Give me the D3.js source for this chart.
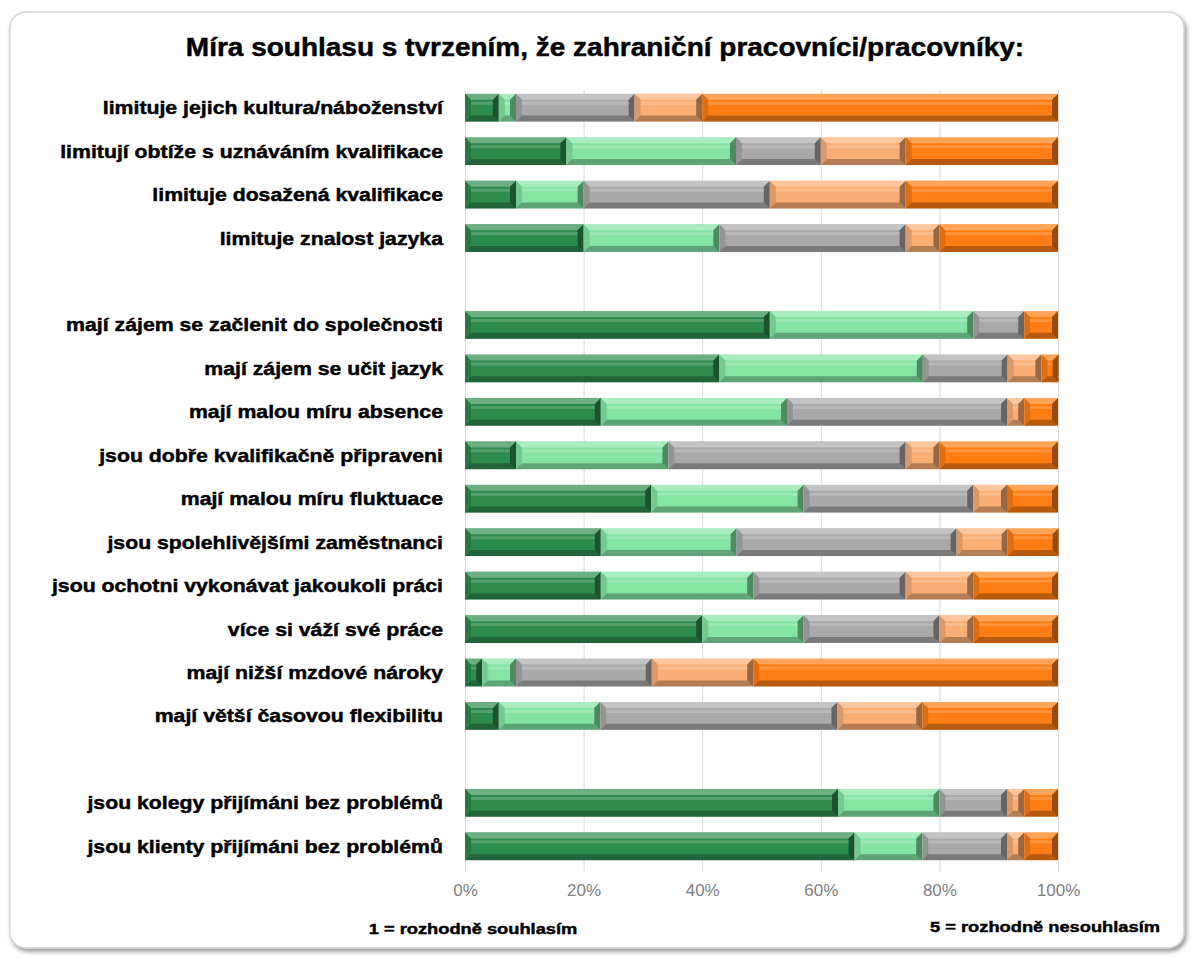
<!DOCTYPE html>
<html>
<head>
<meta charset="utf-8">
<script src="https://cdn.jsdelivr.net/npm/d3@7"></script>
<style>
  body { margin: 0; background: #fff; }
  svg text { font-family: "Liberation Sans", Arial, sans-serif; }
</style>
</head>
<body>
<div id="chart"></div>
<script>
// "" = empty spacer row
var categories = [
  "limituje jejich kultura/náboženství",
  "limitují obtíže s uznáváním kvalifikace",
  "limituje dosažená kvalifikace",
  "limituje znalost jazyka",
  "",
  "mají zájem se začlenit do společnosti",
  "mají zájem se učit jazyk",
  "mají malou míru absence",
  "jsou dobře kvalifikačně připraveni",
  "mají malou míru fluktuace",
  "jsou spolehlivějšími zaměstnanci",
  "jsou ochotni vykonávat jakoukoli práci",
  "více si váží své práce",
  "mají nižší mzdové nároky",
  "mají větší časovou flexibilitu",
  "",
  "jsou kolegy přijímáni bez problémů",
  "jsou klienty přijímáni bez problémů"
];

// percentages per answer level 1..5
var level1 = [5.7, 17.1, 8.6, 20.0, null, 51.4, 42.9, 22.9, 8.6, 31.4, 22.9, 22.9, 40.0, 2.9, 5.7, null, 62.9, 65.7];
var level2 = [2.9, 28.6, 11.4, 22.9, null, 34.3, 34.3, 31.4, 25.7, 25.7, 22.9, 25.7, 17.1, 5.7, 17.1, null, 17.1, 11.4];
var level3 = [20.0, 14.3, 31.4, 31.4, null, 8.6, 14.3, 37.1, 40.0, 28.6, 37.1, 25.7, 22.9, 22.9, 40.0, null, 11.4, 14.3];
var level4 = [11.4, 14.3, 22.9, 5.7, null, 0.0, 5.7, 2.9, 5.7, 5.7, 8.6, 11.4, 5.7, 17.1, 14.3, null, 2.9, 2.9];
var level5 = [60.0, 25.7, 25.7, 20.0, null, 5.7, 2.9, 5.7, 20.0, 8.6, 8.6, 14.3, 14.3, 51.4, 22.9, null, 5.7, 5.7];

var levels = [level1, level2, level3, level4, level5];
var colors = ["#2e8b4e", "#84e4a4", "#a9a9a9", "#fbae74", "#ff7d12"];
var xTicks = [0, 20, 40, 60, 80, 100];

var title = "Míra souhlasu s tvrzením, že zahraniční pracovníci/pracovníky:";
var noteLeft = "1 = rozhodně souhlasím";
var noteRight = "5 = rozhodně nesouhlasím";

const WIDTH = 1192;
const HEIGHT = 958;
const LEFT = 465;
const RIGHT = 1058;
const TOP = 86;
const BOTTOM = 868;

var svg = d3.select('#chart').append('svg')
  .attr('width', WIDTH)
  .attr('height', HEIGHT);

var defs = svg.append('defs');
var shadow = defs.append('filter').attr('id', 'shadow')
  .attr('x', '-5%').attr('y', '-5%').attr('width', '110%').attr('height', '110%');
shadow.append('feDropShadow')
  .attr('dx', 2).attr('dy', 3).attr('stdDeviation', 2)
  .attr('flood-color', '#555').attr('flood-opacity', 0.6);

// text stretched horizontally, anchored at x,y; thin stroke for a heavier look
var wideText = function(x, y, anchor, size, sx, str){
  return svg.append('text')
    .attr('transform', 'translate(' + x + ',' + y + ') scale(' + sx + ',1)')
    .attr('text-anchor', anchor)
    .attr('stroke', '#000')
    .attr('stroke-width', 0.45)
    .style('font-size', size + 'px')
    .style('font-weight', 'bold')
    .text(str);
};

// frame
svg.append('rect')
  .attr('x', 10).attr('y', 12)
  .attr('width', 1174).attr('height', 936)
  .attr('rx', 16).attr('ry', 16)
  .attr('fill', '#fff')
  .attr('stroke', '#d4d4d4')
  .attr('stroke-width', 1.5)
  .attr('filter', 'url(#shadow)');

wideText(605, 56, 'middle', 25, 1.12, title);

var xScale = d3.scaleLinear()
  .domain([0, 100])
  .range([LEFT, RIGHT]);

var yScale = d3.scaleBand()
  .domain(d3.range(categories.length))
  .range([TOP, BOTTOM])
  .paddingInner(0.36)
  .paddingOuter(0.18);

// gridlines + tick labels
var xAxis = d3.axisBottom(xScale)
  .tickValues(xTicks)
  .tickSize(-(BOTTOM - TOP))
  .tickPadding(12)
  .tickFormat(function(d){ return d + '%'; });

var axisG = svg.append('g')
  .attr('transform', 'translate(0,' + (BOTTOM + 4) + ')')
  .call(xAxis);
axisG.select('.domain').remove();
axisG.selectAll('line').attr('stroke', '#d9d9d9').attr('stroke-width', 1);
axisG.selectAll('text')
  .attr('fill', '#808080')
  .style('font-size', '17px')
  .style('font-family', '"Liberation Sans", Arial, sans-serif');

// category labels
categories.forEach(function(c, i){
  if (!c) return;
  wideText(443, yScale(i) + yScale.bandwidth() / 2 + 6.5, 'end', 18.5, 1.15, c);
});

// build stacked segments
var segments = [];
categories.forEach(function(c, i){
  if (level1[i] === null) return;
  var acc = 0;
  levels.forEach(function(arr, k){
    var v = arr[i];
    segments.push({row: i, level: k, x0: acc, x1: acc + v});
    acc += v;
  });
});
segments = segments.filter(function(s){ return s.x1 - s.x0 > 0; });

var bars = svg.append('g').selectAll('g')
  .data(segments)
  .enter().append('g');

bars.append('rect')
  .attr('x', function(d){ return xScale(d.x0); })
  .attr('y', function(d){ return yScale(d.row); })
  .attr('width', function(d){ return xScale(d.x1) - xScale(d.x0); })
  .attr('height', yScale.bandwidth())
  .attr('fill', function(d){ return colors[d.level]; });

// bevel faces
var bevel = function(d, side){
  var x0 = xScale(d.x0), x1 = xScale(d.x1);
  var y0 = yScale(d.row), y1 = y0 + yScale.bandwidth();
  var b = Math.min(6, (x1 - x0) / 2);
  var pts;
  if (side === 'top') pts = [[x0, y0], [x1, y0], [x1 - b, y0 + b], [x0 + b, y0 + b]];
  if (side === 'bottom') pts = [[x0, y1], [x1, y1], [x1 - b, y1 - b], [x0 + b, y1 - b]];
  if (side === 'left') pts = [[x0, y0], [x0 + b, y0 + b], [x0 + b, y1 - b], [x0, y1]];
  if (side === 'right') pts = [[x1, y0], [x1 - b, y0 + b], [x1 - b, y1 - b], [x1, y1]];
  return pts.map(function(p){ return p.join(','); }).join(' ');
};

var faces = [
  {side: 'top', fill: '#fff', op: 0.3},
  {side: 'bottom', fill: '#000', op: 0.28},
  {side: 'left', fill: '#000', op: 0.12},
  {side: 'right', fill: '#000', op: 0.4}
];

faces.forEach(function(f){
  bars.append('polygon')
    .attr('points', function(d){ return bevel(d, f.side); })
    .attr('fill', f.fill)
    .attr('fill-opacity', f.op);
});

// thin highlight stripe on the face
bars.append('rect')
  .attr('x', function(d){ return xScale(d.x0) + Math.min(6, (xScale(d.x1) - xScale(d.x0)) / 2); })
  .attr('y', function(d){ return yScale(d.row) + 8; })
  .attr('width', function(d){ return Math.max(0, xScale(d.x1) - xScale(d.x0) - 2 * Math.min(6, (xScale(d.x1) - xScale(d.x0)) / 2)); })
  .attr('height', 3)
  .attr('fill', '#fff')
  .attr('fill-opacity', 0.18);

wideText(473, 934, 'middle', 15.5, 1.18, noteLeft);
wideText(1045, 932, 'middle', 15.5, 1.18, noteRight);
</script>
</body>
</html>
